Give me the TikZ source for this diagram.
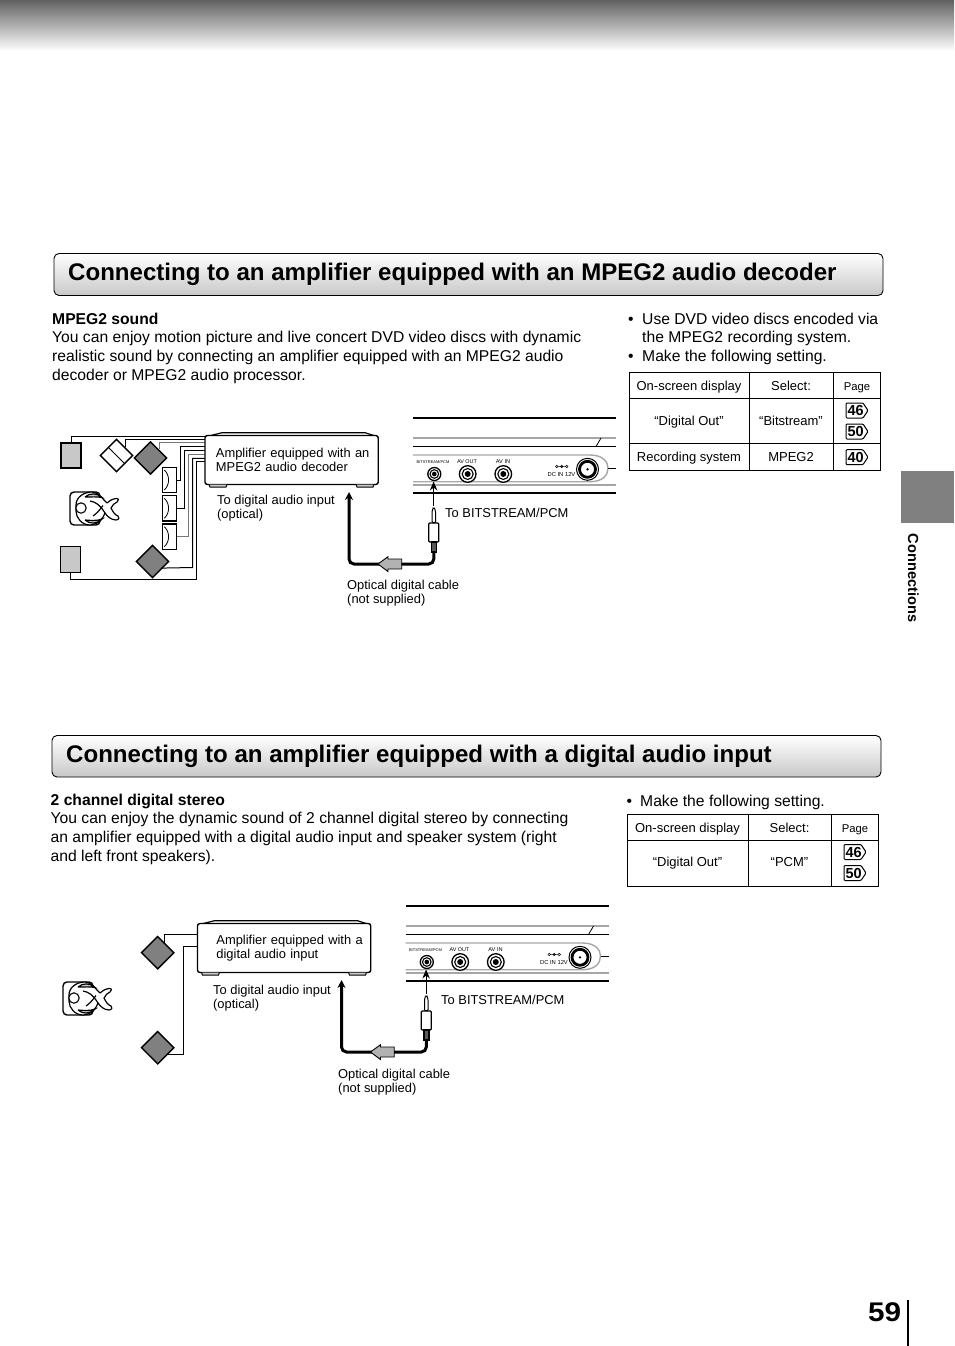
\documentclass[tikz,border=0pt]{standalone}
\usepackage{fontspec}
\setmainfont{Liberation Sans}
\usetikzlibrary{arrows.meta,shapes.geometric,calc}
\definecolor{spk}{HTML}{808080}
\definecolor{lgr}{HTML}{C8C8C8}
\definecolor{tabgr}{HTML}{808080}
\definecolor{wiregr}{HTML}{777777}
\newcommand\fBody{\fontsize{15.67}{18.6}\selectfont}
\newcommand\fSmall{\fontsize{12.9}{14.6}\selectfont}
\newcommand\fTitle{\fontsize{24.05}{28}\selectfont\bfseries}
% name, x, first baseline y, font, text
\newcommand\txtblock[5]{\node[txtb,font=#4] (#1) at (#2,#3-14) {\rule{0pt}{14pt}#5};}
\newcommand\headbar[5]{% name x1 y1 x2 y2
  \node[titlebox,minimum width=#4-#2,minimum height=#5-#3] (#1) at ({(#2+#4)/2},{(#3+#5)/2}) {};}
\newcommand\pageicon[4]{% name x y number
  \draw[iconline] (#2,#3) -- (#2+17,#3) -- (#2+22,#3+7.5) -- (#2+17,#3+15) -- (#2,#3+15) -- cycle;
  \node[icontext] (#1) at (#2+9.7,#3+7.5) {#4};}
\newcommand\jackport[4]{% name x y r
  \node[circle,draw,line width=1.3pt,minimum size=2*#4,inner sep=0,fill=white] (#1) at (#2,#3) {};
  \draw[line width=1.1pt] (#2,#3) circle [radius=#4*0.66];
  \fill (#2,#3) circle [radius=#4*0.36];}
\newcommand\personicon{%
  \draw[line width=1.4pt,rounded corners=4] (70,492) rectangle (100,525);
  \draw[line width=1.2pt,fill=white,line join=round]
    (76,505) .. controls (76,497) and (84,492) .. (92,492)
    .. controls (97,492.5) and (101,496) .. (104,500)
    -- (107,503) .. controls (109,501) and (112,499) .. (116,498.5)
    .. controls (119,498) and (119,501) .. (117,502)
    .. controls (114,503) and (113,505) .. (111,508)
    .. controls (113,512) and (115,515) .. (118,516)
    .. controls (120,517) and (119,520) .. (116,520)
    .. controls (111,520) and (107,516) .. (105,513)
    .. controls (103,518) and (100,524) .. (90,525)
    .. controls (82,525) and (76,518) .. (76,511) -- cycle;
  \draw[line width=1.2pt,fill=lgr] (85,497) .. controls (90,492.5) and (97,493) .. (102,497.5) .. controls (97,496.5) and (91,497) .. (85,497);
  \draw[line width=1.2pt,fill=lgr] (85,520) .. controls (91,520.5) and (97,521) .. (102,519) .. controls (97,524) and (90,524.5) .. (85,520);
  \draw[line width=1.2pt] (90,501) .. controls (96,502) and (100,505) .. (105,513);
  \draw[line width=1.2pt] (93,516) .. controls (96,514) and (99,511) .. (103,505.5);
  \draw[line width=1.1pt,fill=white] (81,508) circle [radius=5.2];
}
\newcommand\devicepanel[1]{% #1 = label on the amp body
  % player panel
  \draw[line width=2.4pt] (413,418) -- (616,418);
  \draw[line width=1.6pt,color=gray!70] (413,438) -- (616,438);
  \draw[line width=1.6pt] (413,446.5) -- (616,446.5);
  \draw[line width=0.8pt] (596,446.5) -- (601,438);
  \draw[line width=1.4pt,color=gray!70] (413,455) -- (590,455) .. controls (603,455) and (608,462) .. (608,468) .. controls (608,475) and (603,481.7) .. (590,481.7) -- (413,481.7);
  \draw[line width=1pt] (608,468) -- (616,468);
  \draw[line width=1.2pt,color=gray!70] (413,485) -- (616,485);
  \draw[line width=2.4pt] (413,492.7) -- (616,492.7);
  \jackport{pbit}{434.3}{474}{6.5}
  \jackport{pout}{467.7}{474}{8.3}
  \jackport{pin}{503.3}{474}{8.3}
  \node[circle,draw,line width=1pt,minimum size=22pt,inner sep=0,fill=white] (pdc) at (587.5,469.3) {};
  \draw[line width=2.8pt,fill=white] (587.5,469.3) circle [radius=8];
  \fill (587.5,469.3) circle [radius=1.3];
  \node[tinylab,font=\fontsize{4}{5}\selectfont] (lbit) at (433,463) {BITSTREAM/PCM};
  \node[tinylab,font=\fontsize{5.4}{6}\selectfont] (lout) at (467,463) {AV OUT};
  \node[tinylab,font=\fontsize{5.6}{6}\selectfont] (lin) at (503,463) {AV IN};
  \node[tinylab,font=\fontsize{5.8}{6}\selectfont] (ldc) at (561.5,476) {DC IN 12V};
  \draw[line width=0.5pt] (556.7,466.5) circle [radius=1.3] (561.7,466.5) circle [radius=1.3] (566.7,466.5) circle [radius=1.3] (558,466.5) -- (565.4,466.5);
  % amplifier
  \draw[ampline,fill=white] (205,437) -- (222,432.7) -- (365,432.7) -- (378.3,437);
  \node[ampbody] (amp) at (291.6,460) {#1};
  \draw[line width=1pt,fill=lgr] (209,484.5) -- (210,487) -- (226,487) -- (227,484.5);
  \draw[line width=1pt,fill=lgr] (356,484.5) -- (357,487) -- (373,487) -- (374,484.5);
  % jack
  \coordinate (porttip) at (433.6,481.5);
  \node[plugbody] (jack) at (433.8,532.5) {};
  \node[plugstrain] (strain) at (433.8,547) {};
  \draw[line width=1pt,fill=white,rounded corners=1] (432,522.7) -- (432,512) -- (433,508) -- (434.6,508) -- (435.6,512) -- (435.6,522.7) -- cycle;
  \coordinate (plugtop) at (433.6,506);
  \draw[thinarrow] (plugtop) -- (porttip);
  \coordinate (ampin) at (349,492);
  \draw[cable] (strain.south) |- (349,564) -- (ampin);
  \draw[line width=0.9pt,fill=gray!60] (378,564) -- (388,556.7) -- (388,559) -- (401.7,559) -- (401.7,569) -- (388,569) -- (388,571.5) -- cycle;
}
\tikzset{
  txtb/.style={anchor=north west,inner sep=0pt,align=left},
  titlebox/.style={draw,line width=0.9pt,rounded corners=5pt,top color=white,bottom color=lgr,inner sep=0pt},
  titletext/.style={anchor=base west,inner sep=0pt,font=\fTitle},
  cell/.style={anchor=base,inner sep=0pt,font=\fontsize{13}{14}\selectfont},
  pagecell/.style={anchor=base,inner sep=0pt,font=\fontsize{11.3}{14}\selectfont},
  tbl/.style={line width=1pt},
  iconline/.style={line width=1pt,line join=round,rounded corners=1pt},
  icontext/.style={inner sep=0pt,font=\fontsize{14.5}{16}\selectfont\bfseries},
  tinylab/.style={anchor=base,inner sep=0pt},
  ampline/.style={line width=1.2pt,line join=round},
  ampbody/.style={draw,line width=1.4pt,rounded corners=2.5pt,fill=white,minimum width=173.3pt,minimum height=49pt,inner xsep=11pt,inner ysep=0pt,text width=151.3pt,align=left,font=\fontsize{12.9}{14.6}\selectfont},
  plugbody/.style={draw,line width=1.2pt,fill=white,minimum width=10pt,minimum height=19pt,inner sep=0pt,rounded corners=1pt},
  plugstrain/.style={draw,line width=1.6pt,fill=black!65,minimum width=5pt,minimum height=10pt,inner sep=0pt},
  thinarrow/.style={line width=1pt,-{Stealth[length=9pt,width=7.5pt]}},
  cable/.style={line width=3pt,rounded corners=5pt,-{Stealth[length=8pt,width=8pt]}},
  wire/.style={line width=1pt},
  grwire/.style={line width=1pt,color=wiregr},
  rearbox/.style={draw,fill=lgr,inner sep=0pt},
  ctrbox/.style={draw,line width=1.4pt,fill=white,minimum width=14.4pt,minimum height=25.4pt,inner sep=0pt},
  grdiam/.style={diamond,draw,line width=1.4pt,fill=spk,minimum width=33pt,minimum height=33pt,inner sep=0pt,aspect=1},
  whdiam/.style={diamond,draw,line width=1.4pt,fill=white,minimum width=33pt,minimum height=33pt,inner sep=0pt,aspect=1},
}
\begin{document}
\begin{tikzpicture}[x=1pt,y=-1pt]
\useasboundingbox (0,0) rectangle (954,1346);
% page header
\shade[top color=black!62,bottom color=white] (0,0) rectangle (954,51);
% section 1
\headbar{h1}{54}{253.5}{883}{295.5}
\node[titletext] (t1) at (68,280.5) {Connecting to an amplifier equipped with an MPEG2 audio decoder};
\txtblock{s1}{52}{324}{\fBody}{\textbf{MPEG2 sound}\\You can enjoy motion picture and live concert DVD video discs with dynamic\\realistic sound by connecting an amplifier equipped with an MPEG2 audio\\decoder or MPEG2 audio processor.}
\txtblock{b1a}{628}{324}{\fBody}{•}
\txtblock{b1}{642}{324}{\fBody}{Use DVD video discs encoded via\\the MPEG2 recording system.}
\txtblock{b1b}{628}{361}{\fBody}{•}
\txtblock{b1c}{642}{361}{\fBody}{Make the following setting.}
% table 1
\draw[tbl] (629.5,372.5) rectangle (880.5,470.5);
\draw[tbl] (749,372.5) -- (749,470.5) (833,372.5) -- (833,470.5) (629.5,398.5) -- (880.5,398.5) (629.5,443.5) -- (880.5,443.5);
\node[cell] (c11) at (689,390) {On-screen display};
\node[cell] (c12) at (791,390) {Select:};
\node[pagecell] (c13) at (857,390) {Page};
\node[cell] (c21) at (689,425) {“Digital Out”};
\node[cell] (c22) at (791,425) {“Bitstream”};
\node[cell] (c31) at (689,461) {Recording system};
\node[cell] (c32) at (791,461) {MPEG2};
\pageicon{p46}{846}{403}{46}
\pageicon{p50}{846}{424}{50}
\pageicon{p40}{846}{449.7}{40}
% diagram 1: speakers and wires
\node[rearbox,line width=1.8pt,minimum width=20pt,minimum height=25pt] (rl) at (71,455.5) {};
\node[rearbox,line width=1pt,minimum width=20.5pt,minimum height=25.5pt] (rr) at (70.5,559.5) {};
\node[whdiam] (cw) at (116.5,455.5) {};
\node[grdiam] (fl) at (150.5,458) {};
\node[grdiam] (fr) at (152.5,561.5) {};
\node[ctrbox] (c1) at (169.5,480) {};
\node[ctrbox] (c2) at (169.5,508.3) {};
\node[ctrbox] (c3) at (169.5,536.7) {};
\coordinate (a1) at (206,436);
\coordinate (a2) at (206,439.3);
\coordinate (a3) at (206,442.7);
\coordinate (a4) at (206,446.7);
\coordinate (a5) at (206,450);
\coordinate (a6) at (206,454);
\coordinate (a7) at (206,458.3);
\coordinate (a8) at (206,461.7);
\draw[wire] (rl.north) |- (a1);
\draw[wire] (cw.north east) |- (a2);
\draw[grwire] (fl.north east) |- (a3);
\draw[wire] (c1.east) -- (180,480) |- (a4);
\draw[wire] (c2.east) -- (184,508.3) |- (a5);
\draw[grwire] (c3.east) -- (188.3,536.7) |- (a6);
\draw[wire] ([yshift=2pt]fr.south east) -- (192.7,567.5) |- (a7);
\draw[wire] (rr.south) |- (196.7,579.3) |- (a8);
\draw[line width=0.8pt] (cw.north west) -- (cw.south east);
\foreach \n in {c1,c2,c3}{
  \draw[line width=0.8pt] ([shift={(-5.2pt,10pt)}]\n.center) .. controls ([shift={(0.5pt,5pt)}]\n.center) and ([shift={(0.5pt,-5pt)}]\n.center) .. ([shift={(-5.2pt,-10pt)}]\n.center);
}
\personicon
\devicepanel{\mbox{Amplifier equipped with an}\\\mbox{MPEG2 audio decoder}}
\txtblock{l1}{217}{504}{\fSmall}{To digital audio input\\(optical)}
\txtblock{l2}{445}{517}{\fSmall}{To BITSTREAM/PCM}
\txtblock{l3}{347}{589}{\fSmall}{Optical digital cable\\(not supplied)}
% side tab
\fill[tabgr] (901,471) rectangle (954,523);
\node[inner sep=0pt,rotate=-90,font=\fontsize{14.6}{16}\selectfont\bfseries] (side) at (913.3,578) {Connections};
% section 2
\headbar{h2}{52}{735.5}{881}{777}
\node[titletext] (t2) at (66,762.5) {Connecting to an amplifier equipped with a digital audio input};
\txtblock{s2}{50.5}{805}{\fBody}{\textbf{2 channel digital stereo}\\You can enjoy the dynamic sound of 2 channel digital stereo by connecting\\an amplifier equipped with a digital audio input and speaker system (right\\and left front speakers).}
\txtblock{b2a}{626.5}{806}{\fBody}{•}
\txtblock{b2}{640}{806}{\fBody}{Make the following setting.}
% table 2
\draw[tbl] (627.5,814) rectangle (878.5,886);
\draw[tbl] (748,814) -- (748,886) (831,814) -- (831,886) (627.5,840) -- (878.5,840);
\node[cell] (d11) at (687.5,832) {On-screen display};
\node[cell] (d12) at (789.5,832) {Select:};
\node[pagecell] (d13) at (855,832) {Page};
\node[cell] (d21) at (687.5,866) {“Digital Out”};
\node[cell] (d22) at (789.5,866) {“PCM”};
\pageicon{q46}{844}{844.5}{46}
\pageicon{q50}{844}{865.5}{50}
% diagram 2
\begin{scope}[shift={(-7.5,488)},name prefix=b-]
\devicepanel{\mbox{\hspace*{8pt}Amplifier equipped with a}\\\mbox{\hspace*{8pt}digital audio input}}
\end{scope}
\node[grdiam] (gl) at (157.7,952.7) {};
\node[grdiam] (gr) at (157.7,1047.7) {};
\coordinate (e1) at (198,934.3);
\coordinate (e2) at (198,946.7);
\draw[wire] ([xshift=-1.5pt]gl.north east) |- (e1);
\draw[wire] ([xshift=-8pt,yshift=-7pt]gr.east) -| (183.3,946.7) -- (e2);
\begin{scope}[shift={(-7,490)}]
\personicon
\end{scope}
\txtblock{m1}{213}{994}{\fSmall}{To digital audio input\\(optical)}
\txtblock{m2}{441}{1004}{\fSmall}{To BITSTREAM/PCM}
\txtblock{m3}{338}{1078}{\fSmall}{Optical digital cable\\(not supplied)}
% page number
\node[anchor=base west,inner sep=0pt,font=\fontsize{27}{30}\selectfont\bfseries] (pg) at (868,1321) {\scalebox{1.1}[1]{59}};
\coordinate (ln1) at (908,1300);
\coordinate (ln2) at (908,1346);
\draw[line width=2pt] (ln1) -- (ln2);
\end{tikzpicture}
\end{document}
